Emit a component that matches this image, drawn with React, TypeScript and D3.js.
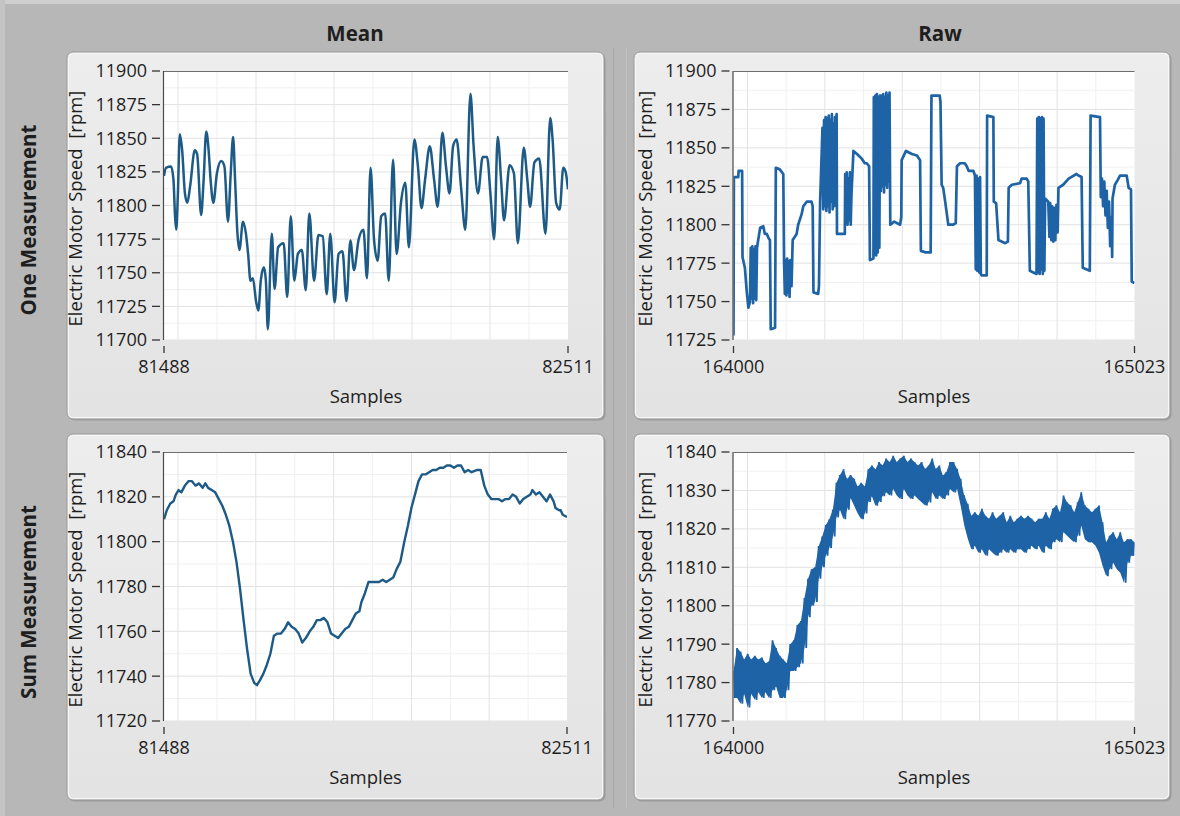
import React from 'react';
import * as d3 from 'd3';

// ---------- labels ----------
const COLUMN_TITLES = ['Mean', 'Raw'];
const ROW_TITLES = ['One Measurement', 'Sum Measurement'];
const Y_TITLE = 'Electric Motor Speed  [rpm]';
const X_TITLE = 'Samples';

// ---------- axes ----------
const MEAN_X = [81488, 82511];
const RAW_X = [164000, 165023];
const Y_TICKS_ONE_MEAN = [11700, 11725, 11750, 11775, 11800, 11825, 11850, 11875, 11900];
const Y_TICKS_ONE_RAW = [11725, 11750, 11775, 11800, 11825, 11850, 11875, 11900];
const Y_TICKS_SUM_MEAN = [11720, 11740, 11760, 11780, 11800, 11820, 11840];
const Y_TICKS_SUM_RAW = [11770, 11780, 11790, 11800, 11810, 11820, 11830, 11840];
const X_GRID_STEP = 197.5; // samples between major vertical grid lines (counted from the right end)

// ---------- data: Mean / One Measurement (sample offset from 81488, rpm) ----------
const MEAN_ONE_OFF = [0, 5, 18, 24, 28, 31, 35, 40, 46, 53, 59, 66, 78, 84, 94, 100, 107, 113, 118, 125, 134, 145, 153, 162, 169, 175, 180, 186, 191, 200, 207, 213, 219, 225, 233, 239, 245, 253, 258, 263, 273, 280, 289, 303, 312, 321, 330, 339, 349, 359, 368, 380, 391, 402, 412, 421, 432, 442, 452, 462, 472, 481, 493, 505, 514, 523, 532, 541, 550, 560, 569, 580, 589, 600, 611, 620, 634, 643, 652, 661, 673, 684, 693, 705, 714, 723, 732, 741, 752, 763, 776, 784, 795, 807, 818, 827, 836, 845, 854, 861, 875, 886, 896, 911, 920, 927, 938, 950, 966, 978, 984, 993, 1002, 1011, 1017, 1023];
const MEAN_ONE_VAL = [11822, 11828, 11829, 11819, 11792, 11782, 11807, 11853, 11841, 11809, 11802, 11814, 11841, 11838, 11793, 11817, 11855, 11841, 11819, 11802, 11824, 11833, 11829, 11788, 11824, 11851, 11819, 11779, 11767, 11788, 11780, 11764, 11744, 11746, 11729, 11722, 11744, 11754, 11744, 11708, 11779, 11738, 11769, 11772, 11732, 11792, 11744, 11764, 11767, 11737, 11794, 11744, 11778, 11777, 11734, 11779, 11728, 11764, 11766, 11729, 11774, 11752, 11775, 11782, 11746, 11828, 11774, 11759, 11792, 11794, 11744, 11834, 11764, 11802, 11817, 11769, 11849, 11829, 11798, 11819, 11844, 11819, 11799, 11854, 11829, 11809, 11844, 11849, 11814, 11782, 11883, 11844, 11809, 11836, 11836, 11807, 11775, 11851, 11817, 11789, 11830, 11824, 11772, 11843, 11819, 11799, 11832, 11835, 11779, 11865, 11849, 11802, 11797, 11828, 11825, 11812];

// ---------- data: Raw / One Measurement ([sample offset from 164000, rpm]) ----------
const RAW_ONE_POINTS: [number, number][] = [
  [0, 11728], [1, 11831], [12, 11831], [13, 11835], [22, 11835], [23, 11779], [29, 11772], [34, 11756], [38, 11746],
  [42, 11750], [44, 11785], [46, 11752], [48, 11786], [50, 11749], [52, 11784], [54, 11752], [56, 11786], [58, 11751], [60, 11785], [63, 11790],
  [68, 11798], [76, 11799], [80, 11794], [85, 11794], [90, 11791], [93, 11790], [95, 11732], [106, 11733], [108, 11837], [118, 11836], [127, 11833], [129, 11776],
  [131, 11755], [133, 11777], [135, 11754], [137, 11778], [139, 11756], [141, 11776], [143, 11753], [145, 11777], [148, 11760],
  [151, 11790], [161, 11794], [165, 11800], [174, 11807], [178, 11812], [187, 11815], [199, 11815], [202, 11812], [204, 11756], [216, 11755], [218, 11760], [221, 11815],
  [227, 11863], [229, 11810], [231, 11868], [233, 11812], [235, 11870], [237, 11809], [239, 11869], [241, 11812], [243, 11871], [245, 11808], [247, 11868], [249, 11815], [251, 11872], [253, 11810], [255, 11866], [257, 11812], [259, 11870], [261, 11818], [263, 11872], [264, 11794], [284, 11794],
  [285, 11833], [287, 11802], [289, 11834], [291, 11800], [293, 11830], [295, 11803], [297, 11834], [299, 11800], [301, 11820],
  [306, 11848], [315, 11846], [327, 11843], [335, 11840], [340, 11840], [346, 11838], [348, 11777], [357, 11778],
  [358, 11883], [360, 11781], [362, 11884], [364, 11780], [366, 11885], [368, 11782], [370, 11883], [372, 11785], [374, 11884],
  [376, 11822], [378, 11884], [380, 11825], [382, 11885], [384, 11821], [386, 11883], [388, 11826], [390, 11886], [392, 11824], [394, 11884], [396, 11828], [398, 11886], [400, 11800],
  [410, 11802], [425, 11800], [428, 11805], [429, 11842], [440, 11848], [455, 11846], [468, 11845], [476, 11842], [478, 11783], [490, 11782], [503, 11782], [505, 11884], [526, 11884],
  [528, 11880], [531, 11826], [535, 11824], [540, 11815], [548, 11800], [560, 11800], [567, 11801], [570, 11838], [578, 11840], [590, 11840], [595, 11838], [600, 11835], [612, 11835], [616, 11832],
  [618, 11771], [620, 11832], [622, 11770], [624, 11830], [627, 11769], [629, 11831], [631, 11768], [633, 11767], [646, 11767], [647, 11871], [663, 11870], [664, 11815], [670, 11814], [676, 11790], [693, 11788], [700, 11789], [702, 11824], [710, 11826], [731, 11827], [735, 11830], [748, 11830], [752, 11828], [756, 11770], [773, 11768],
  [775, 11869], [777, 11769], [779, 11870], [781, 11768], [783, 11869], [785, 11771], [787, 11870], [789, 11768], [791, 11869], [793, 11770], [795, 11817],
  [803, 11815], [806, 11792], [808, 11814], [811, 11790], [813, 11812], [816, 11789], [818, 11811], [821, 11790], [824, 11813], [827, 11795], [829, 11824], [841, 11826], [855, 11830], [875, 11833], [880, 11832], [888, 11831], [891, 11772], [909, 11770], [911, 11871], [935, 11870], [937, 11818],
  [940, 11830], [943, 11812], [946, 11828], [949, 11806], [952, 11822], [955, 11798], [958, 11815], [961, 11786], [964, 11805], [966, 11779], [967, 11817], [973, 11826], [980, 11829], [986, 11832], [1003, 11832], [1008, 11824], [1014, 11823], [1016, 11763], [1023, 11762],
];

// ---------- data: Mean / Sum Measurement (sample offset from 81488, rpm) ----------
const MEAN_SUM_OFF = [0, 7, 16, 24, 30, 37, 44, 53, 62, 71, 80, 89, 98, 105, 112, 121, 130, 139, 148, 157, 166, 175, 184, 193, 202, 211, 220, 229, 236, 243, 252, 261, 270, 279, 288, 297, 306, 315, 324, 333, 342, 351, 360, 370, 379, 388, 397, 406, 415, 424, 433, 442, 451, 460, 469, 478, 487, 496, 501, 510, 519, 528, 537, 546, 555, 564, 573, 582, 591, 600, 610, 619, 628, 637, 646, 655, 664, 673, 682, 691, 700, 709, 718, 727, 736, 745, 754, 763, 772, 781, 795, 804, 813, 822, 831, 840, 849, 858, 867, 876, 885, 894, 903, 912, 921, 930, 935, 944, 953, 962, 971, 980, 989, 994, 1003, 1007, 1012, 1023];
const MEAN_SUM_VAL = [11810, 11814, 11817, 11818, 11821, 11823, 11822, 11825, 11827, 11827, 11825, 11826, 11824, 11826, 11824, 11823, 11822, 11819, 11816, 11812, 11807, 11800, 11791, 11779, 11765, 11752, 11741, 11737, 11736, 11738, 11741, 11745, 11750, 11758, 11759, 11759, 11761, 11764, 11762, 11761, 11759, 11755, 11757, 11760, 11762, 11765, 11765, 11766, 11764, 11759, 11758, 11757, 11759, 11761, 11762, 11765, 11768, 11769, 11773, 11777, 11782, 11782, 11782, 11782, 11783, 11782, 11783, 11784, 11788, 11791, 11800, 11807, 11815, 11821, 11827, 11830, 11830, 11831, 11832, 11832, 11833, 11833, 11834, 11834, 11833, 11834, 11834, 11831, 11832, 11831, 11832, 11832, 11825, 11821, 11819, 11819, 11819, 11818, 11819, 11819, 11821, 11820, 11817, 11819, 11820, 11821, 11823, 11821, 11822, 11820, 11818, 11821, 11818, 11815, 11814, 11814, 11812, 11811];

// ---------- data: Raw / Sum Measurement (upper / lower envelope, evenly spaced over the 1024 samples) ----------
const RAW_SUM_HI = [11783, 11789, 11788, 11786, 11787.5, 11786, 11787, 11786, 11786.5, 11785, 11785.5, 11791, 11789, 11787, 11786, 11785, 11790, 11791, 11795, 11796, 11802, 11807, 11809.5, 11810, 11815.5, 11818, 11821, 11822.5, 11825, 11832, 11834, 11835.5, 11833, 11834, 11833, 11831, 11832, 11831, 11835.5, 11836.5, 11835.5, 11837.4, 11836.5, 11838.3, 11837.4, 11839, 11837.4, 11838.3, 11839, 11837.4, 11838.3, 11837.4, 11836.5, 11837.4, 11835.6, 11836.5, 11838.3, 11835.6, 11836.5, 11833.9, 11834.8, 11837.4, 11837.4, 11835.6, 11833, 11828.7, 11826.5, 11823.4, 11824.3, 11823.4, 11825.2, 11823.4, 11822.6, 11824.3, 11822.6, 11823.4, 11824.3, 11821.7, 11823.4, 11821.7, 11822.6, 11823.4, 11822.6, 11823.4, 11822.6, 11821.7, 11822.6, 11822.6, 11824.3, 11822.6, 11825.2, 11826.1, 11824.3, 11828.7, 11826.9, 11826.1, 11824.3, 11826.9, 11829.5, 11826.1, 11825.2, 11824.3, 11825.2, 11826.1, 11821.7, 11816.5, 11818.2, 11819.1, 11817.3, 11819.1, 11816.5, 11817.3, 11817.3, 11816.5];
const RAW_SUM_LO = [11776, 11776, 11774.5, 11777, 11773.5, 11777, 11775.5, 11777.5, 11776, 11777.5, 11776, 11778, 11779, 11776, 11776, 11778, 11783, 11783, 11784, 11785, 11789, 11797, 11800, 11801, 11807, 11810, 11813, 11815, 11818, 11823, 11825, 11822.5, 11825, 11828, 11826, 11824, 11822.5, 11824, 11827, 11828.5, 11826, 11827, 11828.5, 11829.5, 11828.7, 11830.4, 11828.7, 11827.8, 11830.4, 11828.7, 11827.8, 11828.7, 11827.8, 11826.9, 11826.1, 11826.9, 11829.5, 11827.8, 11828.7, 11827.8, 11828.7, 11830.4, 11829.5, 11830.4, 11826.1, 11821, 11817.5, 11814.7, 11815.6, 11813.8, 11814.7, 11813, 11814.7, 11813.8, 11813, 11813.8, 11814.7, 11813.8, 11814.7, 11813.8, 11814.7, 11814.7, 11813.8, 11814.7, 11815.6, 11814.7, 11815.6, 11813.8, 11815.6, 11814.7, 11816.5, 11817.3, 11816.5, 11819.1, 11818.2, 11817.3, 11816.5, 11818.2, 11820.8, 11817.3, 11816.5, 11816.5, 11815.6, 11813.8, 11810.4, 11807.7, 11809.5, 11811.2, 11809.5, 11808.6, 11806, 11811.2, 11813, 11813];

// ---------- style ----------
const BG = '#b7b7b7';
const TEXT = '#1e1e1e';
const MEAN_COLOR = '#1d5a86';
const RAW_COLOR = '#1f63a7';
const FONT = "'Open Sans', 'Noto Sans', sans-serif";

type Box = { x: number; y: number; w: number; h: number };
type PanelCfg = {
  id: string;
  box: Box;
  plot: Box;
  xDomain: number[];
  yTicks: number[];
  kind: 'meanOne' | 'rawOne' | 'meanSum' | 'rawSum';
};

const PANELS: PanelCfg[] = [
  { id: 'p1', box: { x: 67, y: 52, w: 537, h: 367 }, plot: { x: 164, y: 71, w: 404, h: 269 }, xDomain: MEAN_X, yTicks: Y_TICKS_ONE_MEAN, kind: 'meanOne' },
  { id: 'p2', box: { x: 634, y: 52, w: 536, h: 367 }, plot: { x: 733.5, y: 71, w: 401, h: 269 }, xDomain: RAW_X, yTicks: Y_TICKS_ONE_RAW, kind: 'rawOne' },
  { id: 'p3', box: { x: 67, y: 434, w: 537, h: 366 }, plot: { x: 164, y: 452, w: 403, h: 269 }, xDomain: MEAN_X, yTicks: Y_TICKS_SUM_MEAN, kind: 'meanSum' },
  { id: 'p4', box: { x: 634, y: 434, w: 536, h: 366 }, plot: { x: 733.5, y: 452, w: 401, h: 269 }, xDomain: RAW_X, yTicks: Y_TICKS_SUM_RAW, kind: 'rawSum' },
];

function Series({ cfg, xs, ys }: { cfg: PanelCfg; xs: d3.ScaleLinear<number, number>; ys: d3.ScaleLinear<number, number> }) {
  const x0 = cfg.xDomain[0];
  if (cfg.kind === 'meanOne') {
    const pts = d3.zip(MEAN_ONE_OFF, MEAN_ONE_VAL) as [number, number][];
    const line = d3.line<[number, number]>().x((d) => xs(x0 + d[0])).y((d) => ys(d[1])).curve(d3.curveMonotoneX);
    return <path d={line(pts) || ''} fill="none" stroke={MEAN_COLOR} strokeWidth={2.5} strokeLinejoin="round" />;
  }
  if (cfg.kind === 'meanSum') {
    const pts = d3.zip(MEAN_SUM_OFF, MEAN_SUM_VAL) as [number, number][];
    const line = d3.line<[number, number]>().x((d) => xs(x0 + d[0])).y((d) => ys(d[1])).curve(d3.curveLinear);
    return <path d={line(pts) || ''} fill="none" stroke={MEAN_COLOR} strokeWidth={2.4} strokeLinejoin="round" />;
  }
  if (cfg.kind === 'rawOne') {
    const line = d3.line<[number, number]>().x((d) => xs(x0 + d[0])).y((d) => ys(d[1]));
    return <path d={line(RAW_ONE_POINTS) || ''} fill="none" stroke={RAW_COLOR} strokeWidth={2.7} strokeLinejoin="round" />;
  }
  // rawSum: envelope band + zigzag between upper and lower values
  const n = Math.min(RAW_SUM_HI.length, RAW_SUM_LO.length);
  const span = cfg.xDomain[1] - cfg.xDomain[0];
  const step = span / (n - 1);
  const env = d3.range(n).map((i) => ({ s: x0 + i * step, hi: RAW_SUM_HI[i], lo: RAW_SUM_LO[i] }));
  const area = d3.area<{ s: number; hi: number; lo: number }>().x((d) => xs(d.s)).y0((d) => ys(d.lo)).y1((d) => ys(d.hi));
  const zig: [number, number][] = [];
  env.forEach((d, i) => {
    zig.push([d.s, d.hi]);
    if (i < n - 1) zig.push([d.s + step / 2, d.lo]);
  });
  const line = d3.line<[number, number]>().x((d) => xs(d[0])).y((d) => ys(d[1]));
  return (
    <g>
      <path d={area(env) || ''} fill={RAW_COLOR} />
      <path d={line(zig) || ''} fill="none" stroke={RAW_COLOR} strokeWidth={1.8} strokeLinejoin="miter" />
    </g>
  );
}

function Panel({ cfg }: { cfg: PanelCfg }) {
  const { box, plot, xDomain, yTicks } = cfg;
  const yDomain = [yTicks[0], yTicks[yTicks.length - 1]];
  const xs = d3.scaleLinear().domain(xDomain).range([plot.x, plot.x + plot.w]);
  const ys = d3.scaleLinear().domain(yDomain).range([plot.y + plot.h, plot.y]);

  const majorX: number[] = [];
  const minorX: number[] = [];
  for (let k = 1; xDomain[1] - k * X_GRID_STEP > xDomain[0]; k++) majorX.push(xDomain[1] - k * X_GRID_STEP);
  for (let k = 0; xDomain[1] - (k + 0.5) * X_GRID_STEP > xDomain[0]; k++) minorX.push(xDomain[1] - (k + 0.5) * X_GRID_STEP);
  const minorY = d3.range(yTicks.length - 1).map((i) => (yTicks[i] + yTicks[i + 1]) / 2);

  const bottom = plot.y + plot.h;
  const cx = plot.x + plot.w / 2;
  const cy = plot.y + plot.h / 2;

  return (
    <g>
      {/* panel frame */}
      <rect x={box.x + 1.5} y={box.y + 1.5} width={box.w} height={box.h} rx={6} fill="#8f8f8f" opacity={0.7} />
      <rect x={box.x} y={box.y} width={box.w} height={box.h} rx={6} fill="url(#panelGrad)" stroke="#9b9b9b" strokeWidth={1} />
      <rect x={box.x + 1.5} y={box.y + 1.5} width={box.w - 3} height={box.h - 3} rx={5} fill="none" stroke="#f7f7f7" strokeWidth={1} />

      {/* plot area */}
      <rect x={plot.x} y={plot.y} width={plot.w} height={plot.h} fill="#ffffff" />
      <clipPath id={`clip-${cfg.id}`}>
        <rect x={plot.x} y={plot.y} width={plot.w} height={plot.h} />
      </clipPath>
      <g clipPath={`url(#clip-${cfg.id})`}>
        {minorX.map((v) => (
          <line key={`mx${v}`} x1={xs(v)} x2={xs(v)} y1={plot.y} y2={bottom} stroke="#f0f0f0" strokeWidth={1} />
        ))}
        {minorY.map((v) => (
          <line key={`my${v}`} x1={plot.x} x2={plot.x + plot.w} y1={ys(v)} y2={ys(v)} stroke="#f0f0f0" strokeWidth={1} />
        ))}
        {majorX.map((v) => (
          <line key={`gx${v}`} x1={xs(v)} x2={xs(v)} y1={plot.y} y2={bottom} stroke="#e2e2e2" strokeWidth={1} />
        ))}
        {yTicks.map((v) => (
          <line key={`gy${v}`} x1={plot.x} x2={plot.x + plot.w} y1={ys(v)} y2={ys(v)} stroke="#e2e2e2" strokeWidth={1} />
        ))}
        <Series cfg={cfg} xs={xs} ys={ys} />
      </g>
      <line x1={plot.x} x2={plot.x + plot.w} y1={plot.y + 0.5} y2={plot.y + 0.5} stroke="#6e6e6e" strokeWidth={1.2} />
      <line x1={plot.x - 0.5} x2={plot.x - 0.5} y1={plot.y} y2={bottom} stroke="#4a4a4a" strokeWidth={1.2} />

      {/* y axis */}
      {yTicks.map((v) => (
        <g key={`yt${v}`}>
          <line x1={plot.x - 12} x2={plot.x - 4} y1={ys(v)} y2={ys(v)} stroke="#333" strokeWidth={1.3} />
          <text x={plot.x - 17} y={ys(v)} dy="0.36em" textAnchor="end" fontSize={18} fill={TEXT}>
            {v}
          </text>
        </g>
      ))}
      <text
        transform={`translate(${plot.x - 82},${cy + 3}) rotate(-90)`}
        textAnchor="middle"
        fontSize={18.5}
        fill={TEXT}
        style={{ whiteSpace: 'pre' }}
        xmlSpace="preserve"
      >
        {Y_TITLE}
      </text>

      {/* x axis */}
      {xDomain.map((v) => (
        <g key={`xt${v}`}>
          <line x1={xs(v)} x2={xs(v)} y1={bottom + 6} y2={bottom + 13} stroke="#333" strokeWidth={1.3} />
          <text x={xs(v)} y={bottom + 33} textAnchor="middle" fontSize={18} fill={TEXT}>
            {v}
          </text>
        </g>
      ))}
      <text x={cx} y={bottom + 63} textAnchor="middle" fontSize={18.5} fill={TEXT}>
        {X_TITLE}
      </text>
    </g>
  );
}

export default function App() {
  return (
    <svg
      width={1180}
      height={816}
      viewBox="0 0 1180 816"
      style={{ position: 'absolute', left: 0, top: 0, display: 'block' }}
      fontFamily={FONT}
    >
      <defs>
        <linearGradient id="panelGrad" x1="0" y1="0" x2="0" y2="1">
          <stop offset="0" stopColor="#ededed" />
          <stop offset="1" stopColor="#e3e3e3" />
        </linearGradient>
      </defs>
      <rect x={0} y={0} width={1180} height={816} fill={BG} />
      <rect x={0} y={0} width={1180} height={4} fill="#cfcfcf" />
      <rect x={0} y={0} width={5} height={816} fill="#c4c4c4" />

      {/* column separator */}
      <line x1={613.5} x2={613.5} y1={48} y2={808} stroke="#a6a6a6" strokeWidth={1} />
      <line x1={626.5} x2={626.5} y1={48} y2={808} stroke="#c3c3c3" strokeWidth={1} />

      {/* column titles */}
      <text x={355} y={41} textAnchor="middle" fontSize={20.5} fontWeight="bold" fill={TEXT}>
        {COLUMN_TITLES[0]}
      </text>
      <text x={940} y={41} textAnchor="middle" fontSize={20.5} fontWeight="bold" fill={TEXT}>
        {COLUMN_TITLES[1]}
      </text>

      {/* row titles */}
      <text transform="translate(36,220) rotate(-90)" textAnchor="middle" fontSize={20.5} fontWeight="bold" fill={TEXT}>
        {ROW_TITLES[0]}
      </text>
      <text transform="translate(36,602) rotate(-90)" textAnchor="middle" fontSize={20.5} fontWeight="bold" fill={TEXT}>
        {ROW_TITLES[1]}
      </text>

      {PANELS.map((p) => (
        <Panel key={p.id} cfg={p} />
      ))}
    </svg>
  );
}
